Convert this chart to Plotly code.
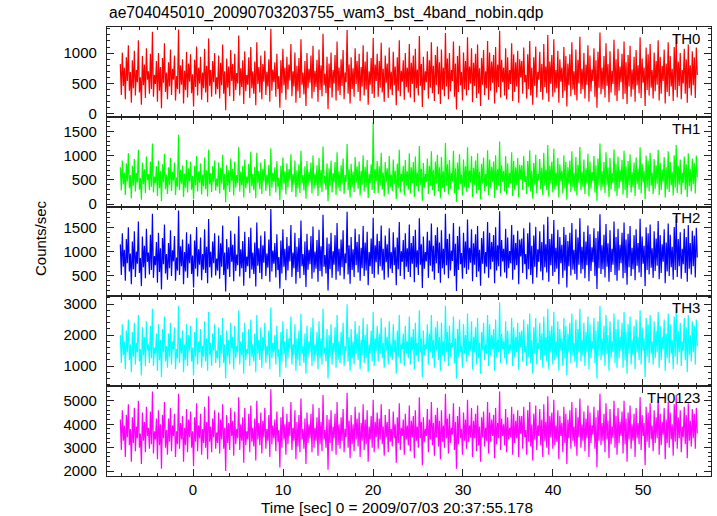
import plotly.graph_objects as go
from plotly.subplots import make_subplots

TITLE = "ae704045010_20090703203755_wam3_bst_4band_nobin.qdp"
X_TITLE = "Time [sec] 0 = 2009/07/03 20:37:55.178"
Y_TITLE = "Counts/sec"

T_START = -8.08   # first bin time [sec]
BIN = 0.11151     # bin width [sec]

TH0 = [
    820, 310, 1010, 460, 760, 240, 930, 540, 1130, 380, 690, 180, 880, 420, 1040, 300,
    720, 520, 1210, 350, 600, 150, 950, 470, 810, 260, 1080, 560, 700, 330, 990, 410,
    1350, 280, 640, 490, 870, 200, 1000, 380, 770, 90, 920, 510, 1160, 360, 680, 240,
    850, 450, 1060, 310, 740, 560, 960, 220, 620, 410, 1390, 330, 800, 480, 900, 170,
    710, 390, 1020, 270, 830, 530, 980, 340, 650, 120, 890, 440, 1110, 300, 760, 500,
    940, 230, 680, 420, 1070, 350, 790, 190, 1240, 460, 720, 280, 870, 520, 1000, 320,
    600, 410, 960, 250, 840, 470, 1140, 330, 700, 60, 910, 430, 780, 290, 1050, 540,
    820, 210, 990, 390, 670, 500, 1290, 300, 750, 440, 880, 160, 1030, 370, 640, 480,
    930, 260, 1100, 420, 700, 330, 860, 140, 1180, 490, 770, 350, 960, 240, 820, 530,
    1040, 310, 690, 450, 900, 200, 1400, 380, 730, 520, 850, 280, 990, 410, 620, 100,
    880, 340, 1070, 470, 760, 230, 940, 400, 810, 550, 1150, 290, 700, 450, 1010, 180,
    790, 370, 920, 260, 1230, 480, 680, 320, 870, 130, 1000, 420, 740, 510, 960, 250,
    1120, 360, 710, 440, 890, 200, 1060, 390, 800, 290, 1320, 470, 660, 340, 940, 80,
    830, 430, 1010, 270, 720, 500, 970, 220, 1190, 380, 760, 310, 900, 460, 1050, 240,
    680, 520, 1380, 330, 810, 170, 930, 410, 750, 280, 1080, 490, 870, 360, 990, 210,
    770, 450, 1130, 300, 860, 400, 1020, 150, 700, 480, 920, 330, 1250, 260, 810, 540,
    990, 280, 870, 430, 1170, 350, 740, 200, 960, 510, 830, 260, 1090, 400, 690, 310,
    1020, 470, 780, 140, 930, 380, 1210, 290, 710, 530, 880, 230, 1000, 440, 760, 350,
    1150, 270, 840, 490, 960, 190, 1070, 420, 730, 300, 1280, 460, 820, 110, 940, 390,
    700, 520, 1030, 250, 880, 430, 1180, 340, 790, 210, 970, 480, 1110, 320, 850, 160,
    1060, 400, 760, 290, 1330, 450, 910, 240, 1000, 370, 720, 540, 1190, 280, 830, 70,
    950, 360, 1120, 470, 690, 220, 1010, 410, 870, 300, 1260, 390, 780, 500, 1080, 190,
    840, 460, 990, 260, 1140, 340, 750, 130, 920, 480, 1050, 310, 700, 420, 1200, 230,
    1010, 380, 860, 510, 970, 170, 1100, 350, 810, 440, 1370, 270, 890, 520, 760, 300,
    1080, 240, 930, 400, 720, 490, 1160, 210, 980, 360, 850, 450, 1040, 180, 900, 600,
    870, 330, 1090, 520, 640, 250, 980, 410, 1200, 300, 760, 150, 930, 460, 1110, 270,
    690, 560, 1020, 360, 820, 230, 1150, 440, 780, 340, 1300, 200, 860, 490, 970, 280,
    1230, 350, 720, 420, 1040, 180, 900, 530, 760, 260, 1100, 380, 950, 120, 830, 470,
    980, 290, 1180, 400, 700, 310, 1060, 220, 890, 500, 1270, 330, 740, 410, 1000, 250,
    810, 480, 1130, 200, 960, 370, 730, 540, 1080, 280, 880, 100, 1020, 430, 1340, 320,
    760, 410, 950, 270, 1160, 460, 820, 190, 1030, 350, 710, 490, 1220, 300, 900, 210,
    1070, 380, 780, 520, 990, 240, 1190, 330, 850, 160, 970, 450, 1120, 280, 730, 400,
    940, 200, 1050, 470, 800, 340, 1260, 260, 910, 510, 760, 130, 1090, 390, 980, 300,
    1150, 430, 720, 250, 1010, 370, 870, 480, 1210, 220, 940, 330, 790, 540, 1060, 170,
    830, 360, 1180, 290, 950, 450, 740, 210, 1100, 390, 1310, 270, 860, 460, 1000, 240,
    720, 500, 1070, 330, 900, 180, 1140, 420, 800, 300, 1030, 470, 930, 260, 1090, 640,
]

TH1 = [
    760, 280, 900, 410, 650, 190, 840, 470, 1050, 330, 600, 120, 790, 380, 930, 260,
    640, 450, 1120, 300, 540, 90, 860, 410, 720, 230, 980, 500, 620, 290, 880, 360,
    1250, 240, 570, 430, 780, 170, 900, 330, 690, 60, 820, 450, 1040, 310, 610, 210,
    760, 400, 950, 270, 660, 490, 860, 190, 550, 360, 1430, 290, 710, 420, 800, 150,
    630, 340, 910, 240, 740, 470, 880, 300, 580, 100, 790, 390, 990, 260, 680, 440,
    840, 200, 610, 370, 960, 310, 700, 160, 1120, 410, 640, 250, 780, 460, 900, 280,
    530, 360, 860, 220, 750, 420, 1020, 290, 620, 40, 810, 380, 700, 250, 940, 480,
    730, 180, 880, 340, 600, 440, 1180, 260, 670, 390, 790, 140, 920, 330, 570, 420,
    830, 230, 1080, 370, 620, 290, 770, 120, 1060, 430, 690, 310, 860, 210, 730, 470,
    930, 270, 610, 400, 810, 170, 1150, 340, 650, 460, 760, 240, 890, 360, 550, 80,
    790, 300, 960, 420, 680, 200, 840, 350, 720, 490, 1030, 250, 620, 400, 900, 150,
    700, 330, 820, 230, 1100, 430, 600, 280, 780, 110, 890, 370, 660, 450, 860, 220,
    1000, 320, 630, 390, 800, 170, 950, 340, 710, 250, 1190, 420, 590, 300, 840, 60,
    740, 380, 900, 240, 640, 450, 870, 190, 1070, 330, 680, 270, 800, 410, 940, 210,
    600, 460, 1240, 290, 720, 140, 830, 360, 670, 250, 970, 440, 780, 320, 880, 180,
    690, 400, 1010, 260, 770, 350, 910, 130, 620, 430, 820, 290, 1690, 230, 720, 480,
    890, 230, 780, 380, 1060, 300, 650, 160, 870, 450, 740, 210, 990, 350, 610, 270,
    920, 410, 690, 100, 840, 330, 1120, 240, 630, 470, 790, 190, 910, 390, 680, 300,
    1050, 220, 760, 430, 870, 150, 980, 370, 650, 260, 1200, 400, 730, 70, 850, 340,
    620, 460, 940, 210, 790, 380, 1090, 290, 710, 170, 880, 420, 1020, 270, 760, 120,
    970, 350, 680, 250, 1260, 390, 820, 200, 910, 320, 640, 480, 1100, 230, 740, 50,
    860, 310, 1030, 410, 610, 180, 920, 360, 780, 260, 1170, 340, 700, 440, 990, 150,
    750, 400, 900, 220, 1050, 290, 670, 100, 830, 420, 960, 270, 620, 370, 1110, 190,
    920, 330, 770, 450, 880, 130, 1010, 300, 720, 390, 1290, 230, 800, 460, 680, 260,
    990, 200, 840, 350, 640, 430, 1070, 170, 890, 310, 760, 400, 950, 140, 810, 520,
    800, 290, 990, 460, 580, 210, 890, 360, 1110, 260, 690, 110, 850, 400, 1020, 230,
    620, 490, 930, 310, 750, 190, 1060, 380, 710, 290, 1220, 160, 790, 430, 880, 240,
    1140, 300, 650, 370, 950, 140, 820, 470, 690, 220, 1010, 330, 870, 90, 760, 410,
    900, 250, 1090, 350, 640, 270, 970, 180, 810, 440, 1180, 290, 670, 360, 920, 210,
    740, 420, 1040, 160, 880, 320, 660, 480, 990, 240, 800, 70, 940, 380, 1250, 280,
    690, 360, 870, 230, 1070, 400, 750, 150, 950, 310, 640, 430, 1130, 260, 820, 170,
    980, 330, 710, 460, 910, 200, 1100, 290, 780, 130, 890, 390, 1030, 240, 660, 350,
    860, 170, 960, 410, 730, 300, 1170, 220, 830, 450, 690, 100, 1000, 340, 900, 260,
    1060, 380, 650, 210, 930, 320, 800, 420, 1120, 190, 860, 290, 720, 470, 970, 140,
    760, 310, 1090, 250, 870, 390, 670, 180, 1010, 340, 1220, 230, 790, 400, 920, 200,
    650, 440, 980, 290, 820, 150, 1050, 370, 730, 260, 940, 410, 850, 220, 1000, 560,
]

TH2 = [
    1150, 520, 1380, 690, 1040, 400, 1260, 760, 1500, 590, 960, 330, 1210, 640, 1420, 480,
    1000, 750, 1620, 560, 870, 290, 1310, 680, 1120, 450, 1470, 790, 980, 530, 1350, 620,
    1780, 460, 910, 720, 1200, 360, 1390, 580, 1070, 220, 1280, 740, 1560, 550, 950, 420,
    1180, 660, 1440, 500, 1030, 800, 1320, 400, 880, 610, 1850, 520, 1110, 700, 1250, 330,
    990, 590, 1400, 460, 1160, 760, 1360, 540, 920, 260, 1230, 650, 1510, 490, 1050, 730,
    1290, 410, 950, 630, 1460, 560, 1100, 350, 1670, 680, 1000, 470, 1210, 760, 1380, 510,
    860, 610, 1330, 440, 1170, 690, 1540, 520, 980, 180, 1260, 640, 1090, 480, 1430, 790,
    1140, 390, 1370, 600, 940, 720, 1730, 490, 1050, 660, 1220, 300, 1410, 580, 900, 700,
    1300, 450, 1490, 630, 980, 540, 1190, 280, 1600, 710, 1070, 560, 1330, 430, 1130, 770,
    1420, 500, 960, 670, 1250, 380, 1880, 590, 1020, 750, 1180, 470, 1360, 620, 890, 240,
    1230, 550, 1460, 690, 1060, 410, 1300, 610, 1120, 800, 1550, 480, 980, 660, 1390, 340,
    1100, 580, 1280, 450, 1640, 700, 950, 520, 1210, 270, 1370, 630, 1040, 740, 1320, 440,
    1520, 570, 1000, 650, 1240, 380, 1450, 600, 1110, 490, 1760, 690, 930, 550, 1290, 200,
    1160, 640, 1390, 460, 1010, 730, 1340, 420, 1590, 590, 1060, 510, 1250, 680, 1440, 430,
    960, 760, 1820, 530, 1130, 340, 1300, 620, 1050, 480, 1470, 720, 1200, 570, 1360, 400,
    1080, 660, 1530, 500, 1190, 610, 1410, 310, 990, 700, 1270, 540, 1700, 460, 1130, 780,
    1370, 530, 1220, 700, 1540, 610, 1060, 420, 1330, 780, 1150, 470, 1480, 650, 990, 560,
    1400, 720, 1090, 310, 1290, 640, 1610, 500, 1010, 790, 1240, 430, 1380, 690, 1070, 580,
    1560, 480, 1180, 750, 1320, 370, 1450, 680, 1030, 520, 1690, 730, 1150, 250, 1310, 650,
    990, 800, 1410, 460, 1230, 710, 1580, 590, 1120, 420, 1340, 760, 1500, 560, 1190, 360,
    1440, 660, 1060, 530, 1780, 720, 1260, 450, 1370, 610, 1020, 810, 1590, 500, 1160, 190,
    1320, 620, 1520, 740, 970, 440, 1390, 670, 1210, 540, 1660, 630, 1080, 770, 1460, 390,
    1170, 730, 1360, 480, 1530, 590, 1040, 300, 1280, 750, 1420, 550, 990, 690, 1610, 460,
    1390, 640, 1200, 790, 1340, 350, 1500, 610, 1130, 700, 1830, 490, 1240, 800, 1060, 570,
    1470, 450, 1290, 660, 1010, 760, 1550, 420, 1350, 630, 1180, 720, 1430, 330, 1250, 900,
    1270, 560, 1480, 740, 950, 430, 1380, 640, 1600, 520, 1120, 340, 1330, 690, 1510, 470,
    1050, 790, 1420, 590, 1200, 410, 1560, 680, 1150, 570, 1720, 380, 1260, 720, 1370, 500,
    1650, 580, 1080, 650, 1450, 330, 1300, 760, 1140, 460, 1510, 610, 1350, 260, 1220, 700,
    1390, 510, 1590, 630, 1040, 540, 1460, 420, 1290, 730, 1690, 550, 1100, 640, 1410, 450,
    1210, 720, 1540, 390, 1360, 600, 1090, 780, 1480, 500, 1280, 230, 1420, 660, 1770, 540,
    1130, 640, 1350, 470, 1570, 690, 1170, 380, 1440, 580, 1060, 730, 1620, 520, 1300, 400,
    1470, 610, 1140, 760, 1390, 450, 1600, 560, 1250, 320, 1370, 680, 1530, 500, 1080, 640,
    1340, 410, 1460, 710, 1180, 570, 1680, 480, 1310, 750, 1120, 290, 1500, 620, 1380, 530,
    1560, 670, 1070, 460, 1420, 600, 1270, 710, 1630, 430, 1340, 560, 1150, 790, 1460, 350,
    1190, 590, 1580, 500, 1350, 680, 1100, 420, 1510, 620, 1740, 480, 1260, 700, 1400, 440,
    1060, 740, 1470, 560, 1300, 380, 1550, 650, 1180, 530, 1430, 700, 1330, 470, 1490, 880,
]

TH3 = [
    2000, 1100, 2350, 1350, 1800, 900, 2150, 1450, 2500, 1200, 1700, 800, 2100, 1300, 2400, 1050,
    1750, 1450, 2650, 1150, 1550, 700, 2250, 1350, 1950, 1000, 2450, 1500, 1700, 1100, 2300, 1250,
    2850, 1000, 1600, 1400, 2050, 850, 2350, 1200, 1850, 650, 2200, 1450, 2600, 1150, 1650, 950,
    2050, 1300, 2400, 1050, 1800, 1550, 2250, 900, 1550, 1250, 2950, 1100, 1900, 1400, 2150, 800,
    1700, 1200, 2350, 1000, 2000, 1500, 2300, 1150, 1600, 700, 2100, 1300, 2550, 1050, 1800, 1450,
    2200, 950, 1650, 1300, 2450, 1150, 1900, 850, 2750, 1350, 1750, 1000, 2050, 1500, 2350, 1100,
    1500, 1250, 2250, 950, 2000, 1400, 2550, 1100, 1700, 600, 2150, 1300, 1850, 1050, 2400, 1550,
    1950, 900, 2300, 1250, 1650, 1450, 2800, 1050, 1800, 1350, 2100, 750, 2400, 1200, 1550, 1400,
    2200, 1000, 2500, 1300, 1700, 1150, 2050, 800, 2650, 1400, 1850, 1200, 2250, 950, 1950, 1500,
    2400, 1100, 1650, 1350, 2150, 900, 2900, 1250, 1750, 1450, 2000, 1050, 2300, 1300, 1550, 650,
    2100, 1150, 2450, 1400, 1800, 950, 2200, 1250, 1900, 1550, 2600, 1050, 1700, 1350, 2350, 850,
    1900, 1200, 2150, 1000, 2700, 1400, 1650, 1100, 2050, 750, 2300, 1300, 1800, 1450, 2250, 1000,
    2550, 1150, 1700, 1350, 2100, 900, 2450, 1250, 1900, 1050, 2850, 1400, 1600, 1150, 2200, 600,
    2000, 1300, 2350, 1050, 1750, 1450, 2250, 950, 2650, 1200, 1800, 1100, 2100, 1350, 2400, 1000,
    1650, 1500, 3000, 1150, 1950, 850, 2200, 1250, 1800, 1050, 2450, 1400, 2050, 1200, 2300, 900,
    1850, 1350, 2550, 1100, 2000, 1250, 2350, 800, 1700, 1400, 2150, 1150, 2750, 1000, 1900, 1500,
    2300, 1150, 2050, 1400, 2550, 1250, 1750, 950, 2250, 1500, 1950, 1050, 2450, 1300, 1700, 1200,
    2350, 1450, 1850, 750, 2150, 1300, 2650, 1100, 1700, 1550, 2050, 1000, 2300, 1400, 1800, 1250,
    2600, 1050, 1950, 1500, 2200, 900, 2400, 1350, 1750, 1150, 2800, 1450, 1900, 650, 2150, 1350,
    1700, 1550, 2350, 1050, 2050, 1450, 2650, 1250, 1850, 950, 2250, 1500, 2450, 1200, 1950, 850,
    2400, 1350, 1800, 1150, 2950, 1450, 2100, 1000, 2300, 1300, 1750, 1600, 2600, 1100, 1900, 600,
    2200, 1300, 2500, 1450, 1650, 950, 2350, 1400, 2000, 1150, 2700, 1350, 1800, 1500, 2450, 900,
    1950, 1450, 2250, 1050, 2550, 1250, 1750, 750, 2100, 1500, 2400, 1200, 1700, 1400, 2650, 1000,
    2350, 1350, 2000, 1550, 2200, 850, 2500, 1300, 1850, 1450, 3050, 1100, 2050, 1550, 1800, 1250,
    2450, 1050, 2150, 1400, 1700, 1500, 2550, 1000, 2250, 1300, 1950, 1450, 2400, 900, 2100, 1600,
    2150, 1150, 2500, 1450, 1650, 1000, 2350, 1300, 2700, 1100, 1850, 750, 2250, 1400, 2550, 1050,
    1750, 1550, 2400, 1200, 2050, 950, 2600, 1350, 1950, 1150, 2850, 900, 2150, 1450, 2300, 1050,
    2750, 1200, 1800, 1300, 2450, 850, 2200, 1500, 1900, 1000, 2550, 1250, 2300, 700, 2050, 1450,
    2400, 1100, 2700, 1350, 1750, 1150, 2500, 950, 2200, 1450, 2850, 1150, 1850, 1350, 2400, 1000,
    2100, 1450, 2600, 900, 2350, 1250, 1800, 1550, 2550, 1100, 2150, 600, 2450, 1350, 2950, 1200,
    1900, 1350, 2300, 1000, 2650, 1400, 2000, 850, 2450, 1250, 1800, 1450, 2700, 1100, 2200, 950,
    2500, 1250, 1950, 1500, 2400, 950, 2750, 1200, 2100, 750, 2350, 1400, 2600, 1050, 1850, 1350,
    2300, 900, 2500, 1450, 1950, 1200, 2800, 1050, 2250, 1500, 1900, 650, 2550, 1300, 2350, 1100,
    2650, 1400, 1800, 1050, 2450, 1250, 2150, 1450, 2750, 950, 2300, 1200, 1950, 1550, 2500, 850,
    2050, 1250, 2700, 1100, 2350, 1400, 1850, 900, 2600, 1300, 2900, 1050, 2150, 1450, 2400, 1000,
    1800, 1500, 2550, 1200, 2250, 800, 2650, 1350, 2000, 1150, 2450, 1450, 2300, 1050, 2500, 1650,
]

TH0123 = [
    4200, 2900, 4600, 3300, 3950, 2600, 4400, 3450, 4850, 3100, 3800, 2400, 4300, 3200, 4700, 2850,
    3900, 3400, 5000, 3000, 3600, 2300, 4500, 3300, 4100, 2800, 4750, 3500, 3850, 2950, 4550, 3150,
    5400, 2750, 3700, 3350, 4250, 2500, 4600, 3100, 4000, 2100, 4400, 3400, 4950, 3000, 3750, 2700,
    4250, 3250, 4700, 2850, 3950, 3500, 4450, 2600, 3700, 3150, 5300, 2950, 4050, 3350, 4350, 2400,
    3850, 3100, 4650, 2800, 4200, 3450, 4550, 3000, 3700, 2200, 4300, 3250, 4900, 2850, 3950, 3400,
    4450, 2700, 3800, 3200, 4750, 3000, 4100, 2500, 5200, 3250, 3900, 2800, 4250, 3450, 4600, 2950,
    3650, 3200, 4500, 2750, 4200, 3350, 4850, 2950, 3850, 2000, 4400, 3200, 4050, 2900, 4700, 3500,
    4150, 2650, 4550, 3150, 3800, 3400, 5150, 2900, 4000, 3300, 4300, 2350, 4700, 3100, 3700, 3350,
    4450, 2800, 4800, 3250, 3850, 3050, 4250, 2450, 5000, 3350, 4050, 3100, 4500, 2750, 4150, 3450,
    4700, 2950, 3800, 3300, 4400, 2600, 5500, 3150, 3950, 3400, 4200, 2850, 4550, 3250, 3750, 2150,
    4300, 3000, 4750, 3350, 4000, 2700, 4450, 3150, 4100, 3500, 4950, 2900, 3850, 3300, 4600, 2500,
    4100, 3050, 4400, 2800, 5100, 3350, 3800, 2950, 4250, 2300, 4500, 3200, 4000, 3400, 4450, 2800,
    4850, 3000, 3850, 3300, 4300, 2650, 4700, 3150, 4100, 2850, 5250, 3350, 3750, 3000, 4400, 2050,
    4200, 3200, 4600, 2850, 3900, 3400, 4450, 2700, 4950, 3100, 4000, 2950, 4300, 3300, 4650, 2800,
    3800, 3450, 5350, 3000, 4150, 2550, 4400, 3150, 4000, 2850, 4750, 3350, 4250, 3050, 4500, 2600,
    4050, 3300, 4850, 2900, 4200, 3150, 4600, 2400, 3900, 3350, 4350, 3000, 5050, 2800, 4100, 3450,
    4500, 2950, 4250, 3350, 4850, 3150, 3900, 2650, 4400, 3450, 4100, 2800, 4650, 3250, 3800, 3050,
    4550, 3400, 4000, 2350, 4300, 3200, 4900, 2900, 3850, 3500, 4200, 2700, 4450, 3350, 3950, 3100,
    4800, 2850, 4150, 3450, 4350, 2550, 4600, 3300, 3900, 3000, 5150, 3400, 4100, 2250, 4300, 3250,
    3800, 3500, 4650, 2800, 4200, 3350, 4950, 3100, 4050, 2650, 4400, 3450, 4700, 3050, 4150, 2500,
    4600, 3250, 3950, 3000, 5300, 3400, 4250, 2750, 4450, 3200, 3850, 3550, 4900, 2900, 4100, 2100,
    4350, 3150, 4750, 3400, 3800, 2700, 4500, 3300, 4200, 2950, 5050, 3250, 3950, 3450, 4700, 2600,
    4150, 3400, 4450, 2850, 4800, 3100, 3900, 2400, 4300, 3450, 4550, 3050, 3850, 3300, 4950, 2750,
    4500, 3250, 4200, 3500, 4400, 2550, 4700, 3150, 4050, 3400, 5400, 2900, 4250, 3500, 4000, 3100,
    4650, 2800, 4300, 3350, 3850, 3450, 4750, 2700, 4450, 3200, 4150, 3400, 4600, 2600, 4350, 3600,
    4350, 2950, 4750, 3450, 3750, 2700, 4600, 3250, 4950, 3050, 4000, 2450, 4450, 3350, 4800, 2900,
    3950, 3500, 4650, 3100, 4200, 2600, 4850, 3300, 4100, 3000, 5200, 2700, 4350, 3450, 4500, 2950,
    5050, 3100, 3950, 3250, 4600, 2500, 4350, 3500, 4050, 2800, 4750, 3200, 4450, 2300, 4200, 3400,
    4600, 2950, 4950, 3300, 3900, 3050, 4700, 2650, 4300, 3450, 5100, 3000, 4000, 3300, 4550, 2850,
    4250, 3400, 4800, 2600, 4500, 3200, 3950, 3550, 4750, 2950, 4300, 2150, 4600, 3300, 5300, 3100,
    4050, 3300, 4450, 2800, 4900, 3350, 4150, 2550, 4650, 3150, 3900, 3400, 5000, 3000, 4350, 2700,
    4700, 3200, 4100, 3500, 4550, 2750, 5000, 3150, 4250, 2400, 4500, 3350, 4800, 2950, 4000, 3300,
    4450, 2600, 4700, 3400, 4050, 3150, 5150, 2900, 4400, 3500, 4050, 2250, 4750, 3250, 4500, 3000,
    4900, 3350, 3950, 2850, 4600, 3200, 4300, 3400, 5050, 2700, 4450, 3100, 4100, 3550, 4700, 2500,
    4200, 3200, 4950, 3000, 4500, 3350, 4000, 2650, 4850, 3250, 5250, 2950, 4300, 3400, 4600, 2800,
    3900, 3450, 4750, 3150, 4400, 2550, 4900, 3300, 4150, 3050, 4650, 3400, 4450, 2950, 4700, 3600,
]

SERIES = [TH0, TH1, TH2, TH3, TH0123]
NAMES = ["TH0", "TH1", "TH2", "TH3", "TH0123"]
COLORS = ["#ff0000", "#00ff00", "#0000ff", "#00ffff", "#ff00ff"]
Y_RANGES = [[-50, 1430], [-50, 1800], [78, 1928], [350, 3250], [1786, 5628]]
Y_DTICK = [500, 500, 500, 1000, 1000]
Y_MINOR = [100, 100, 100, 200, 200]
X_RANGE = [-9.56, 57.56]

FONT = "Liberation Sans, Arial, Helvetica, sans-serif"
AXIS_COLOR = "#222222"

fig = make_subplots(rows=5, cols=1, shared_xaxes=True, vertical_spacing=0)

for i, (vals, name, col) in enumerate(zip(SERIES, NAMES, COLORS)):
    t = [T_START + BIN * k for k in range(len(vals))]
    fig.add_trace(
        go.Scatter(x=t, y=vals, mode="lines", name=name,
                   line=dict(color=col, width=1.2), showlegend=False),
        row=i + 1, col=1,
    )
    fig.update_yaxes(
        row=i + 1, col=1,
        range=Y_RANGES[i], dtick=Y_DTICK[i], tick0=0,
        ticks="inside", ticklen=7, tickwidth=1, tickcolor=AXIS_COLOR,
        minor=dict(dtick=Y_MINOR[i], tick0=0, ticks="inside", ticklen=3,
                   tickwidth=1, tickcolor=AXIS_COLOR, showgrid=False),
        showline=True, mirror="allticks", linecolor=AXIS_COLOR, linewidth=1.2,
        showgrid=False, zeroline=False,
        tickfont=dict(family=FONT, size=15, color="black"),
        ticklabelstandoff=6,
    )
    yref = "y domain" if i == 0 else f"y{i + 1} domain"
    fig.add_annotation(
        x=0.985, y=0.99, xref="paper", yref=yref, text=name,
        showarrow=False, xanchor="right", yanchor="top",
        font=dict(family=FONT, size=15, color="black"),
    )

fig.update_xaxes(
    range=X_RANGE, dtick=10, tick0=0,
    ticks="inside", ticklen=7, tickwidth=1, tickcolor=AXIS_COLOR,
    minor=dict(dtick=2, tick0=0, ticks="inside", ticklen=3, tickwidth=1,
               tickcolor=AXIS_COLOR, showgrid=False),
    showline=True, mirror="allticks", linecolor=AXIS_COLOR, linewidth=1.2,
    showgrid=False, zeroline=False,
    tickfont=dict(family=FONT, size=15, color="black"),
    ticklabelstandoff=0,
)

fig.add_annotation(
    x=0, y=1.0, xref="paper", yref="paper", yshift=14, text=TITLE,
    showarrow=False, xanchor="left", yanchor="middle",
    font=dict(family=FONT, size=15.6, color="black"),
)
fig.add_annotation(
    x=0.48, y=0, xref="paper", yref="paper", yshift=-31, text=X_TITLE,
    showarrow=False, xanchor="center", yanchor="middle",
    font=dict(family=FONT, size=15.4, color="black"),
)
fig.add_annotation(
    x=0, y=0.53, xref="paper", yref="paper", xshift=-67, text=Y_TITLE,
    showarrow=False, xanchor="center", yanchor="middle", textangle=-90,
    font=dict(family=FONT, size=15, color="black"),
)

fig.update_layout(
    width=717, height=516,
    margin=dict(l=107, r=6, t=27, b=40),
    paper_bgcolor="white", plot_bgcolor="white",
    showlegend=False,
)

fig.write_html("out.html", config={"displayModeBar": False},
               post_script="document.body.style.margin='0px';")
